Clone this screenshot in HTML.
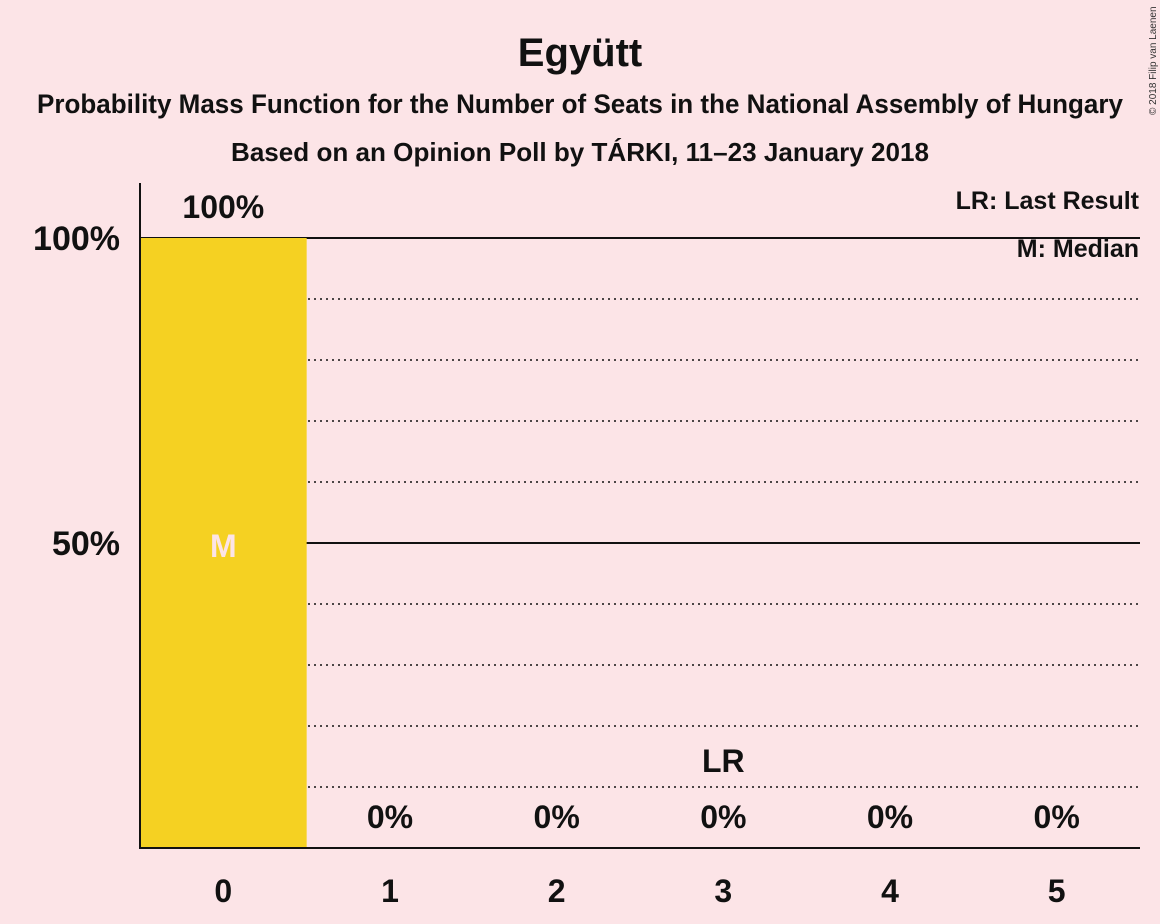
<!DOCTYPE html>
<html><head><meta charset="utf-8">
<style>
body{margin:0;background:#fce4e7;}
svg{display:block;font-family:"Liberation Sans",sans-serif;}
</style></head>
<body>
<svg id="chart" width="1160" height="924" viewBox="0 0 1160 924">
<rect width="1160" height="924" fill="#fce4e7"/>
<text x="580" y="66" text-anchor="middle" font-size="40" font-weight="bold" fill="#111">Együtt</text>
<text x="580" y="113" text-anchor="middle" font-size="26.5" font-weight="bold" fill="#111" textLength="1086" lengthAdjust="spacingAndGlyphs">Probability Mass Function for the Number of Seats in the National Assembly of Hungary</text>
<text x="580" y="161" text-anchor="middle" font-size="26" font-weight="bold" fill="#111" textLength="698" lengthAdjust="spacingAndGlyphs">Based on an Opinion Poll by TÁRKI, 11–23 January 2018</text>
<text x="1156" y="115" font-size="10" fill="#333" transform="rotate(-90 1156 115)">© 2018 Filip van Laenen</text>
<text x="1139" y="209" text-anchor="end" font-size="25" font-weight="bold" fill="#111">LR: Last Result</text>
<text x="1139" y="257" text-anchor="end" font-size="25" font-weight="bold" fill="#111">M: Median</text>
<g id="plot"></g>
</svg>
<script>
const categories=[0,1,2,3,4,5];
const values=[100,0,0,0,0,0];
const valueLabels=["100%","0%","0%","0%","0%","0%"];
const yTicks=[50,100];
const gridLevels=[10,20,30,40,50,60,70,80,90,100];
const medianSeat=0;
const lastResultSeat=3;

const NS="http://www.w3.org/2000/svg";
const g=document.getElementById('plot');
const x0=140,x1=1140,y0=848,yTop=183;
const bw=(x1-x0)/categories.length;
const yS=v=>y0-v*6.1;
const xC=i=>x0+bw*(i+0.5);
function mk(tag,attrs){const e=document.createElementNS(NS,tag);for(const k in attrs)e.setAttribute(k,attrs[k]);g.appendChild(e);return e;}

gridLevels.forEach(v=>{
  const solid=v%50===0;
  const l=mk('line',{x1:x0,x2:x1,y1:yS(v),y2:yS(v),stroke:'#111','stroke-width':solid?2:1.5,'stroke-dasharray':solid?'none':'2,4'});
  
  
});
yTicks.forEach(v=>{
  const t=mk('text',{x:x0-20,y:yS(v)+12,'text-anchor':'end','font-size':34,'font-weight':'bold',fill:'#111'});
  t.textContent=v+'%';
  
  
});
categories.forEach((c,i)=>{
  const v=values[i];
  if(v>0){
    const r=mk('rect',{x:x0+bw*i,y:yS(v),width:bw,height:y0-yS(v),fill:'#f5d122'});
    
    
  }
  const lbl=mk('text',{x:xC(i),y:(v>50?yS(v)-20:y0-20),'text-anchor':'middle','font-size':32,'font-weight':'bold',fill:'#111'});
  lbl.textContent=valueLabels[i];
  
  
  const xt=mk('text',{x:xC(i),y:902,'text-anchor':'middle','font-size':32,'font-weight':'bold',fill:'#111'});
  xt.textContent=c;
  
  
  if(c===medianSeat){
    const m=mk('text',{x:xC(i),y:yS(values[i]/2)+14,'text-anchor':'middle','font-size':32,'font-weight':'bold',fill:'#fce4e7'});
    m.textContent='M';
    
    
  }
  if(c===lastResultSeat){
    const lr=mk('text',{x:xC(i),y:772,'text-anchor':'middle','font-size':32,'font-weight':'bold',fill:'#111'});
    lr.textContent='LR';
    
    
  }
});
const ya=mk('line',{x1:x0,x2:x0,y1:yTop,y2:y0+1,stroke:'#111','stroke-width':2});


const xa=mk('line',{x1:x0,x2:x1,y1:y0,y2:y0,stroke:'#111','stroke-width':2});


</script>
</body></html>
